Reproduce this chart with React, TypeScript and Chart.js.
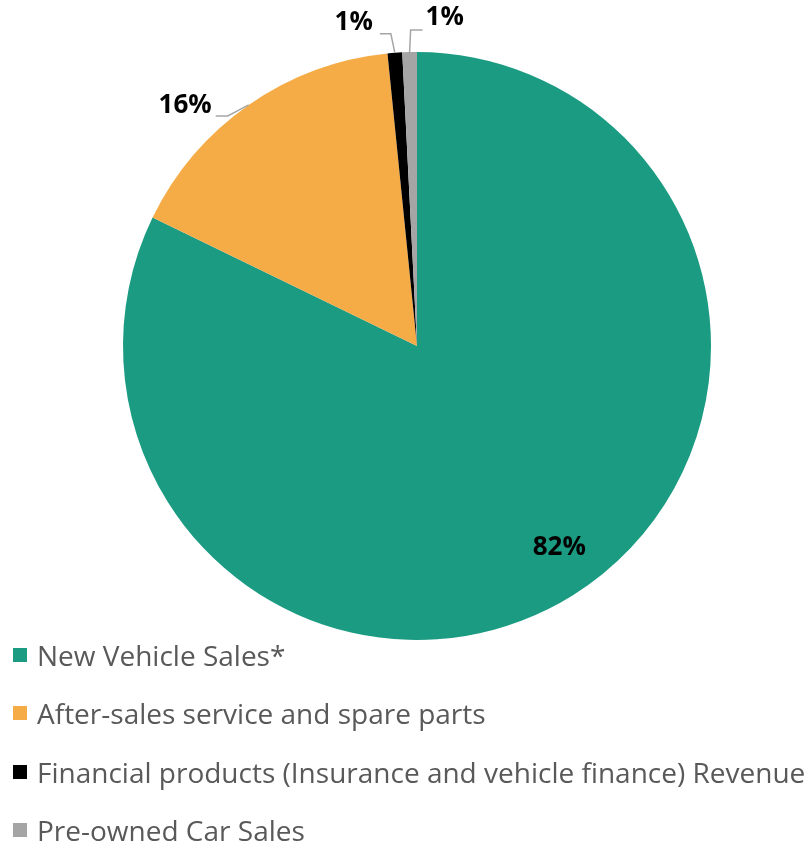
import React, { useEffect, useRef } from "react";
import { Chart, registerables } from "chart.js";

Chart.register(...registerables);

const categories = [
  "New Vehicle Sales*",
  "After-sales service and spare parts",
  "Financial products (Insurance and vehicle finance) Revenue",
  "Pre-owned Car Sales",
];
const shares = [82.2, 16.2, 0.8, 0.8];
const shareLabels = ["82%", "16%", "1%", "1%"];
const sliceColors = ["#1a9b82", "#f5ac47", "#000000", "#a5a5a5"];

type Leader = { elbow: [number, number]; arm: number; text: [number, number] } | null;
const leaders: Leader[] = [
  null,
  { elbow: [-21, 11], arm: -12, text: [-4, -10] },
  { elbow: [-4, -19], arm: -11, text: [-7, -11] },
  { elbow: [1, -22], arm: 12, text: [3, -12] },
];

const labelFont = "bold 26px 'Open Sans'";

const labelPlugin = {
  id: "sliceLabels",
  afterDatasetsDraw(chart: any) {
    const ctx = chart.ctx;
    const meta = chart.getDatasetMeta(0);
    ctx.save();
    ctx.font = labelFont;
    ctx.fillStyle = "#000000";
    meta.data.forEach((arc: any, i: number) => {
      const { x, y, startAngle, endAngle, outerRadius } = arc.getProps(
        ["x", "y", "startAngle", "endAngle", "outerRadius"],
        true
      );
      const mid = (startAngle + endAngle) / 2;
      const ld = leaders[i];
      if (!ld) {
        const r = outerRadius * 0.84;
        const a = mid - 0.055;
        ctx.textAlign = "center";
        ctx.textBaseline = "middle";
        ctx.fillText(shareLabels[i], x + r * Math.cos(a), y + r * Math.sin(a));
        return;
      }
      const px = x + outerRadius * Math.cos(mid);
      const py = y + outerRadius * Math.sin(mid);
      const ex = px + ld.elbow[0];
      const ey = py + ld.elbow[1];
      const fx = ex + ld.arm;
      ctx.strokeStyle = "#a6a6a6";
      ctx.lineWidth = 1.5;
      ctx.beginPath();
      ctx.moveTo(px, py);
      ctx.lineTo(ex, ey);
      ctx.lineTo(fx, ey);
      ctx.stroke();
      ctx.textAlign = ld.arm < 0 ? "right" : "left";
      ctx.textBaseline = "middle";
      ctx.fillText(shareLabels[i], fx + ld.text[0], ey + ld.text[1]);
    });
    ctx.restore();
  },
};

export default function App() {
  const ref = useRef<HTMLCanvasElement>(null);
  useEffect(() => {
    if (!ref.current) return;
    const chart = new Chart(ref.current, {
      type: "pie",
      data: {
        labels: categories,
        datasets: [
          {
            data: shares,
            backgroundColor: sliceColors,
            borderWidth: 0,
            hoverOffset: 0,
          },
        ],
      },
      options: {
        animation: false,
        responsive: false,
        layout: { padding: { left: 123, right: 96, top: 52, bottom: 205 } },
        plugins: {
          legend: { display: false },
          tooltip: { enabled: false },
        },
      },
      plugins: [labelPlugin],
    });
    return () => chart.destroy();
  }, []);

  return (
    <div style={{ position: "absolute", left: 0, top: 0, width: 807, height: 845, background: "#fff" }}>
      <canvas ref={ref} width={807} height={845} style={{ width: 807, height: 845 }} />
      {categories.map((c, i) => (
        <div
          key={c}
          style={{
            position: "absolute",
            left: 13,
            top: 655 + i * 58.4 - 20,
            height: 40,
            display: "flex",
            alignItems: "center",
            whiteSpace: "nowrap",
            fontFamily: "'Open Sans'",
            fontSize: 28,
            color: "#595959",
          }}
        >
          <span style={{ display: "inline-block", width: 14, height: 14, background: sliceColors[i], marginRight: 10, flex: "none" }} />
          <span>{c}</span>
        </div>
      ))}
    </div>
  );
}
